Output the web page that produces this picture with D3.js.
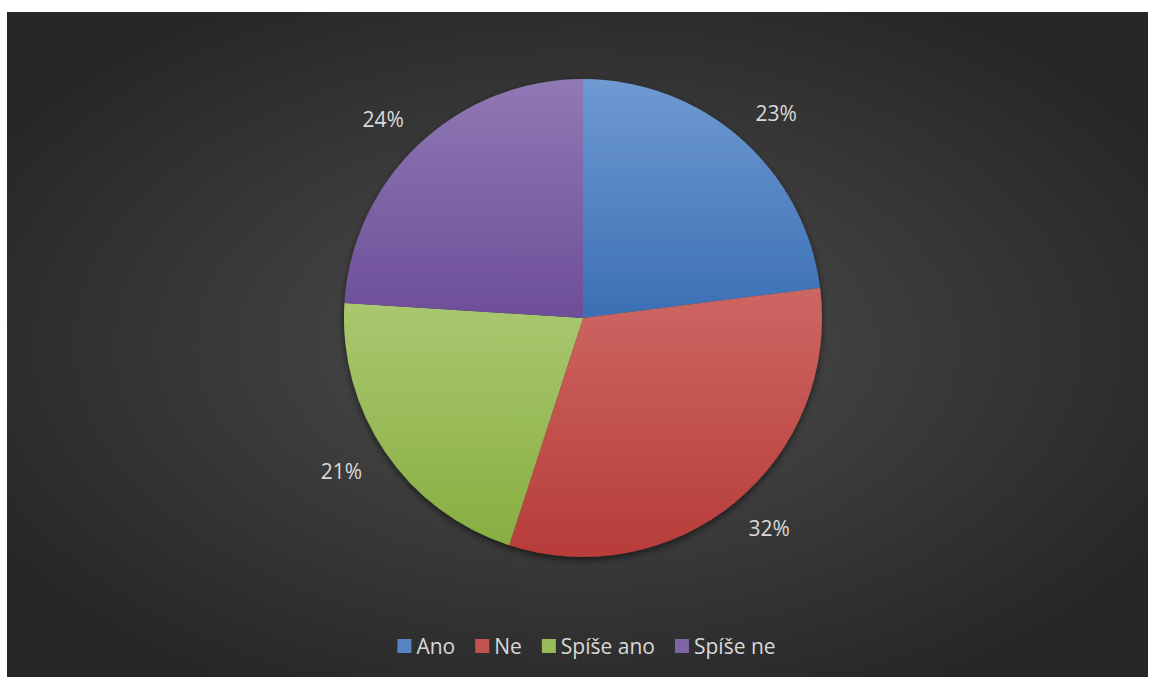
<!DOCTYPE html>
<html>
<head>
<meta charset="utf-8">
<script src="https://cdn.jsdelivr.net/npm/d3@7"></script>
<style>
  html, body { margin: 0; padding: 0; background: #ffffff; }
  svg { display: block; }
</style>
</head>
<body>
<svg id="chart" width="1149" height="677"></svg>
<script>
// Survey answers and their shares (percent)
const categories = ["Ano", "Ne", "Spíše ano", "Spíše ne"];
const shares = [23, 32, 21, 24];
const sliceTop = ["#6f9ad2", "#cd6763", "#a9c86f", "#9079b5"];
const sliceBottom = ["#3b6fb4", "#b73c39", "#88ae42", "#6d4e98"];

const W = 1149, H = 677;
const svg = d3.select("#chart");
const defs = svg.append("defs");

// Dark radial background panel
const bg = defs.append("radialGradient").attr("id", "bgGrad")
  .attr("cx", "50%").attr("cy", "50%").attr("r", "60%");
bg.append("stop").attr("offset", "0%").attr("stop-color", "#4e4e4e");
bg.append("stop").attr("offset", "100%").attr("stop-color", "#262626");

svg.append("rect").attr("x", 7).attr("y", 12)
  .attr("width", W - 8).attr("height", H - 12)
  .attr("fill", "url(#bgGrad)");

// Soft shadow under the pie
const shadow = defs.append("filter").attr("id", "pieShadow")
  .attr("x", "-20%").attr("y", "-20%").attr("width", "140%").attr("height", "140%");
shadow.append("feDropShadow").attr("dx", 0).attr("dy", 3)
  .attr("stdDeviation", 3.5).attr("flood-color", "#000").attr("flood-opacity", 0.55);

categories.forEach((c, i) => {
  const g = defs.append("linearGradient").attr("id", "slice" + i)
    .attr("x1", 0).attr("y1", 0).attr("x2", 0).attr("y2", 1);
  g.append("stop").attr("offset", "0%").attr("stop-color", sliceTop[i]);
  g.append("stop").attr("offset", "100%").attr("stop-color", sliceBottom[i]);
});

const data = categories.map((c, i) => ({ name: c, value: shares[i], idx: i }));
const cx = 583, cy = 318, R = 239;

const pie = d3.pie().sort(null).value(d => d.value);
const arcs = pie(data);
const arc = d3.arc().innerRadius(0).outerRadius(R);

const pieG = svg.append("g").attr("transform", `translate(${cx},${cy})`);
pieG.append("g").attr("filter", "url(#pieShadow)")
  .selectAll("path").data(arcs).join("path")
  .attr("d", arc)
  .attr("fill", d => `url(#slice${d.data.idx})`);

// Percentage labels sit outside the rim; wider text boxes push them further sideways
const labelRx = 292, labelRy = 273;
const labelPos = d => {
  const a = (d.startAngle + d.endAngle) / 2;
  return [labelRx * Math.sin(a), -labelRy * Math.cos(a)];
};
const total = d3.sum(shares);
pieG.selectAll("text.lbl").data(arcs).join("text")
  .attr("class", "lbl")
  .attr("transform", d => `translate(${labelPos(d)})`)
  .attr("text-anchor", "middle")
  .attr("dominant-baseline", "central")
  .attr("font-family", "'Open Sans', sans-serif")
  .attr("font-size", 21)
  .attr("fill", "#d9d9d9")
  .text(d => Math.round(d.data.value / total * 100) + "%");

// Legend, centered along the bottom
const legend = svg.append("g");
const items = legend.selectAll("g").data(data).join("g");
items.append("rect").attr("width", 14).attr("height", 14)
  .attr("y", -7)
  .attr("fill", d => d3.interpolateRgb(sliceTop[d.idx], sliceBottom[d.idx])(0.5));
items.append("text").attr("x", 19).attr("dominant-baseline", "central")
  .attr("font-family", "'Open Sans', sans-serif").attr("font-size", 21)
  .attr("fill", "#d9d9d9").text(d => d.name);

const gap = 20;
let x = 0;
items.each(function () {
  const w = this.getBBox().width;
  d3.select(this).attr("transform", `translate(${x},0)`);
  x += w + gap;
});
const legW = x - gap;
legend.attr("transform", `translate(${398 + (377 - legW) / 2},646)`);
</script>
</body>
</html>
